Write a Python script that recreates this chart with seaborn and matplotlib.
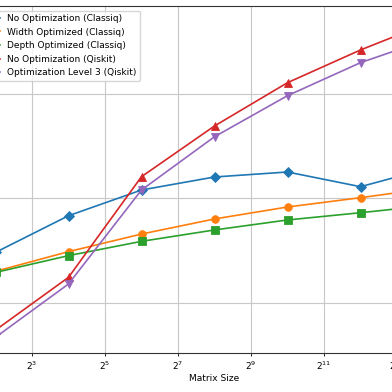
import matplotlib
matplotlib.use("Agg")
import matplotlib.pyplot as plt
import seaborn as sns
from matplotlib.ticker import FixedLocator, NullLocator, LogFormatterSciNotation

# ---- data ----
matrix_sizes = [4, 16, 64, 256, 1024, 4096, 16384]
no_opt_classiq = [305, 684, 1206, 1606, 1793, 1297, 2002]
width_opt_classiq = [201, 310, 457, 637, 829, 1018, 1268]
depth_opt_classiq = [196, 284, 389, 500, 623, 731, 867]
no_opt_qiskit = [55, 176, 1617, 4942, 12830, 26380, 49990]
opt3_qiskit = [47, 152, 1206, 3900, 9635, 19940, 34660]

series_labels = [
    "No Optimization (Classiq)",
    "Width Optimized (Classiq)",
    "Depth Optimized (Classiq)",
    "No Optimization (Qiskit)",
    "Optimization Level 3 (Qiskit)",
]
x_tick_exponents = [1, 3, 5, 7, 9, 11, 13]
x_label = "Matrix Size"

# ---- drawing ----
series_values = [no_opt_classiq, width_opt_classiq, depth_opt_classiq,
                 no_opt_qiskit, opt3_qiskit]
markers = ["D", "o", "s", "^", "v"]
colors = ["tab:blue", "tab:orange", "tab:green", "tab:red", "tab:purple"]

plt.rcParams["font.family"] = ["DejaVu Sans"]
fig = plt.figure(figsize=(3.92, 3.92), dpi=100)
# axes extend past the figure edges (reference is a crop of a wider chart)
ax = fig.add_axes([-26.4 / 392, 39 / 392, 481.8 / 392, 347 / 392])

for vals, lab, mk, col in zip(series_values, series_labels, markers, colors):
    sns.lineplot(x=matrix_sizes, y=vals, ax=ax, label=lab, marker=mk,
                 color=col, linewidth=1.2, markersize=5.5,
                 markeredgewidth=0.6, markeredgecolor=col)

ax.set_xscale("log", base=2)
ax.set_yscale("log")
ax.set_xlim(2 ** 1.4, 2 ** 14.6)
ax.set_ylim(10 ** 1.5215, 10 ** 4.842)

ax.xaxis.set_major_locator(FixedLocator([2 ** e for e in x_tick_exponents]))
ax.xaxis.set_major_formatter(LogFormatterSciNotation(base=2))
ax.xaxis.set_minor_locator(NullLocator())
ax.yaxis.set_minor_locator(NullLocator())
ax.tick_params(axis="x", labelsize=6.5, length=2.5, width=0.6, pad=2)
ax.tick_params(axis="y", labelleft=False, length=0)

ax.grid(True, color="#c8c8c8", linewidth=0.8)
for sp in ax.spines.values():
    sp.set_linewidth(0.8)
    sp.set_color("#333333")

ax.set_xlabel(x_label, fontsize=6.5, labelpad=2)
ax.set_ylabel("")

ax.legend(loc="upper left", fontsize=6.5, frameon=True, framealpha=0.8,
          edgecolor="#cccccc")

fig.savefig("out.png", dpi=100)
